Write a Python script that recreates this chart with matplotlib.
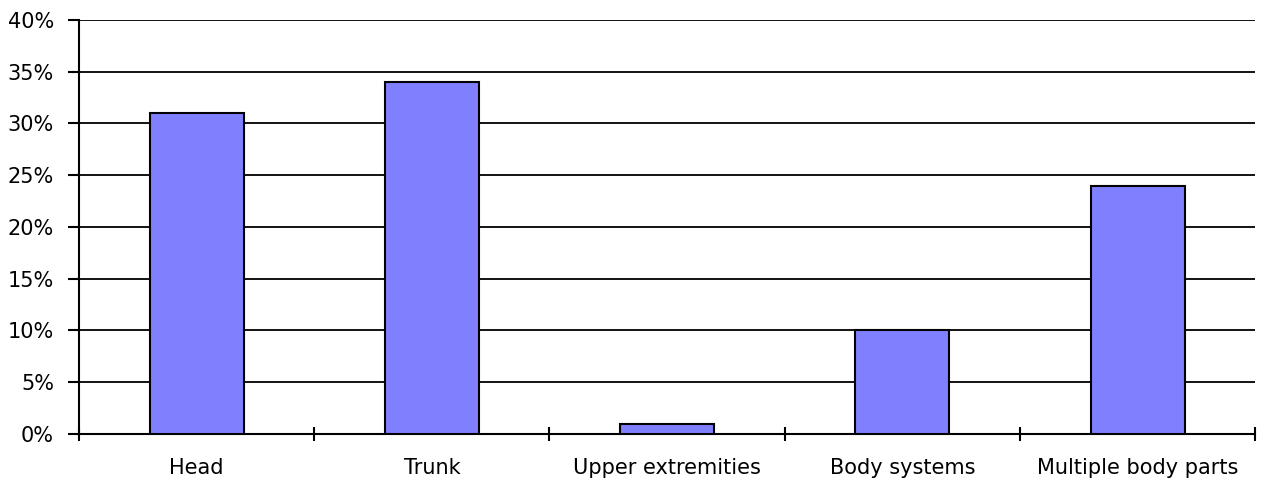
import matplotlib.pyplot as plt
from matplotlib.ticker import FuncFormatter, FixedLocator
import numpy as np

categories = ["Head", "Trunk", "Upper extremities", "Body systems", "Multiple body parts"]
values = [31, 34, 1, 10, 24]
yticks = [0, 5, 10, 15, 20, 25, 30, 35, 40]

fig = plt.figure(figsize=(12.62, 4.82), dpi=100)
ax = fig.add_axes([0.0626, 0.0996, 0.932, 0.859])

x = np.arange(len(categories))
ax.bar(x, values, width=0.4, color="#8080ff", edgecolor="black", linewidth=1.5, zorder=3)

ax.set_xlim(-0.5, len(categories) - 0.5)
ax.set_ylim(0, 40)
ax.set_yticks(yticks)
ax.yaxis.set_major_formatter(FuncFormatter(lambda v, p: "%d%%" % v))
ax.grid(axis="y", color="black", linewidth=1.3, zorder=0)

ax.set_xticks(x)
ax.set_xticklabels(categories)
ax.xaxis.set_minor_locator(FixedLocator(np.arange(len(categories) + 1) - 0.5))
ax.tick_params(axis="x", which="major", length=0, pad=17, labelsize=15)
ax.tick_params(axis="x", which="minor", length=10, width=1.5, direction="inout")
ax.tick_params(axis="y", length=8, width=1.5, labelsize=15, pad=10)

for s in ["top", "right"]:
    ax.spines[s].set_visible(False)
ax.spines["left"].set_linewidth(1.5)
ax.spines["bottom"].set_linewidth(1.5)

fig.savefig("out.png", dpi=100)
